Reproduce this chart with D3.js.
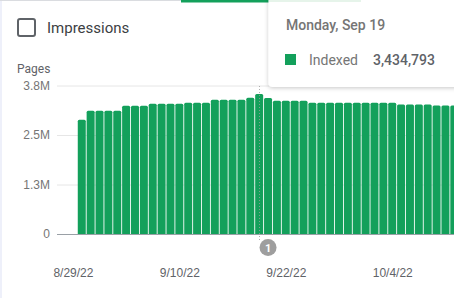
<!DOCTYPE html>
<html>
<head>
<meta charset="utf-8">
<script src="https://cdn.jsdelivr.net/npm/d3@7"></script>
<style>
  body { margin: 0; background: #fff; font-family: Roboto, sans-serif; }
  svg { display: block; }
  .y-axis text { font-size: 12px; fill: #757575; }
  .y-axis line { stroke: #e6e6e6; }
  .x-axis text { font-size: 12px; fill: #5f6368; }
</style>
</head>
<body>
<script>
  // daily indexed pages, 8/30/22 .. 10/11/22
  var firstDay = new Date(2022, 7, 30);
  var indexed = [
    2884000,
    3112000, 3112000, 3112000, 3112000,
    3238000, 3238000, 3238000,
    3288000, 3288000, 3288000, 3288000,
    3313000, 3313000, 3313000,
    3389000, 3389000, 3389000, 3389000,
    3440000, 3434793, 3432000,
    3364000, 3364000, 3364000, 3364000,
    3313000, 3313000, 3313000, 3313000, 3313000,
    3313000, 3313000, 3313000, 3313000, 3313000,
    3271000, 3271000, 3271000, 3271000,
    3245000, 3245000, 3245000
  ];
  var yTicks = [0, 1250000, 2500000, 3750000];
  var xTicks = [new Date(2022, 7, 29), new Date(2022, 8, 10), new Date(2022, 8, 22), new Date(2022, 9, 4)];
  var hoverDay = new Date(2022, 8, 19);
  var noteDay = new Date(2022, 8, 20);
  var noteLabel = '1';

  var W = 454, H = 298;
  var green = '#13a05b';

  var days = indexed.map((v, i) => d3.timeDay.offset(firstDay, i));
  var data = days.map((d, i) => ({ date: d, value: indexed[i] }));

  var svg = d3.select('body').append('svg')
    .attr('width', W)
    .attr('height', H);

  var defs = svg.append('defs');
  defs.append('filter').attr('id', 'shadow')
    .attr('x', '-10%').attr('y', '-20%').attr('width', '130%').attr('height', '150%')
    .append('feDropShadow')
    .attr('dx', 0).attr('dy', 1).attr('stdDeviation', 2)
    .attr('flood-color', '#000').attr('flood-opacity', 0.22);

  // left page strip
  svg.append('rect').attr('x', 0).attr('y', 0).attr('width', 2).attr('height', H).attr('fill', '#eef0fa');

  // tab lines on top
  svg.append('line').attr('x1', 0).attr('x2', 181).attr('y1', 0.5).attr('y2', 0.5)
    .attr('stroke', '#dadce0');
  svg.append('rect').attr('x', 181).attr('y', 0).attr('width', 90).attr('height', 2.5).attr('fill', green);

  // checkbox header
  svg.append('rect').attr('x', 18).attr('y', 19).attr('width', 17).attr('height', 17).attr('rx', 2)
    .attr('fill', 'none').attr('stroke', '#5f6368').attr('stroke-width', 2);
  svg.append('text').attr('x', 47).attr('y', 33).text('Impressions')
    .attr('font-size', 15).attr('fill', '#3c4043');

  svg.append('text').attr('x', 17).attr('y', 72.5).text('Pages')
    .attr('font-size', 12).attr('fill', '#5f6368');

  // scales
  var x0 = 72.9, step = 8.87;
  var x = d3.scaleTime()
    .domain([new Date(2022, 7, 29), new Date(2022, 9, 11)])
    .range([x0, x0 + 43 * step]);

  var y = d3.scaleLinear()
    .domain([0, 3750000])
    .range([234, 85.5]);

  // Y axis with grid
  var yAxis = svg.append('g')
    .attr('class', 'y-axis')
    .attr('transform', 'translate(57,0)')
    .call(d3.axisLeft(y)
      .tickValues(yTicks)
      .tickSize(-(W - 57))
      .tickPadding(7)
      .tickFormat(d => d === 0 ? '0' : (d / 1e6).toFixed(1) + 'M'));
  yAxis.select('.domain').remove();

  // bars with rounded tops
  var bw = 8, r = 1.5;
  function barPath(cx, top, bottom) {
    var l = cx - bw / 2, rr = cx + bw / 2;
    return `M${l},${bottom}V${top + r}Q${l},${top} ${l + r},${top}H${rr - r}Q${rr},${top} ${rr},${top + r}V${bottom}Z`;
  }

  svg.append('g').selectAll('path')
    .data(data)
    .enter()
    .append('path')
    .attr('fill', green)
    .attr('d', d => {
      var hov = +d.date === +hoverDay;
      return barPath(x(d.date), y(d.value) - (hov ? 4 : 0), 234);
    });

  // baseline
  svg.append('line').attr('x1', 57).attr('x2', W).attr('y1', 234.5).attr('y2', 234.5)
    .attr('stroke', '#9aa0a6');

  // hover guide
  svg.append('line')
    .attr('x1', Math.round(x(hoverDay)) + 0.5).attr('x2', Math.round(x(hoverDay)) + 0.5)
    .attr('y1', 86).attr('y2', 240)
    .attr('stroke', '#9e9e9e').attr('stroke-dasharray', '1,2').attr('opacity', 0.8);

  // X axis
  var xAxis = svg.append('g')
    .attr('class', 'x-axis')
    .attr('transform', 'translate(0,277)')
    .call(d3.axisBottom(x)
      .tickValues(xTicks)
      .tickSize(0)
      .tickFormat(d3.timeFormat('%-m/%-d/%y')));
  xAxis.select('.domain').remove();
  xAxis.selectAll('text').attr('y', 0).attr('dy', null);

  // annotation marker
  svg.append('circle').attr('cx', x(noteDay)).attr('cy', 247.5).attr('r', 8.5).attr('fill', '#9e9e9e');
  svg.append('text').attr('x', x(noteDay)).attr('y', 251.5).text(noteLabel)
    .attr('text-anchor', 'middle').attr('font-size', 11).attr('font-weight', 700).attr('fill', '#fff');

  // tooltip
  var tip = svg.append('g');
  tip.append('rect').attr('x', 268.5).attr('y', -6).attr('width', 200).attr('height', 93).attr('rx', 4)
    .attr('fill', '#fff').attr('filter', 'url(#shadow)');
  tip.append('rect').attr('x', 269).attr('y', 0).attr('width', 92).attr('height', 2).attr('fill', '#e6f4ea');
  tip.append('text').attr('x', 286).attr('y', 30).text('Monday, Sep 19')
    .attr('font-size', 14).attr('font-weight', 500).attr('fill', '#757575');
  tip.append('rect').attr('x', 285).attr('y', 54).attr('width', 11).attr('height', 11).attr('fill', green);
  tip.append('text').attr('x', 309).attr('y', 65).text('Indexed')
    .attr('font-size', 14).attr('fill', '#757575');
  tip.append('text').attr('x', 373).attr('y', 65).text(d3.format(',')(indexed[20]))
    .attr('font-size', 14).attr('font-weight', 500).attr('fill', '#5f6368');
</script>
</body>
</html>
